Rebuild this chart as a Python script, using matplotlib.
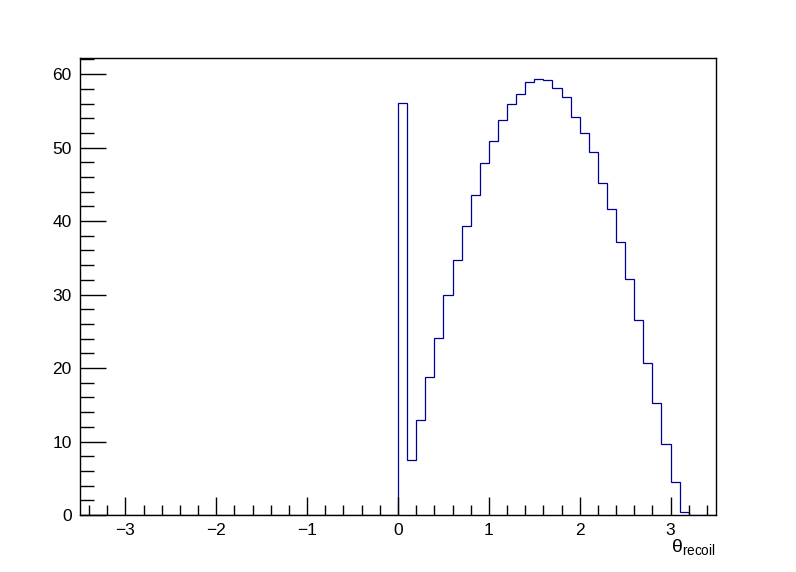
import numpy as np
import matplotlib
matplotlib.use('Agg')
import matplotlib.pyplot as plt
from matplotlib.ticker import MultipleLocator

plt.rcParams['font.family'] = ['Liberation Sans', 'DejaVu Sans']
plt.rcParams['mathtext.fontset'] = 'custom'
plt.rcParams['mathtext.rm'] = 'Liberation Sans'
plt.rcParams['mathtext.it'] = 'Liberation Sans'
plt.rcParams['mathtext.default'] = 'regular'

# histogram: 70 bins from -3.5 to 3.5, only bins >= 0 filled
bin_edges = np.round(np.arange(-3.5, 3.5001, 0.1), 2)
filled = [56.05, 7.52, 12.92, 18.82, 24.12, 29.93, 34.69, 39.36, 43.54, 47.89,
          50.88, 53.74, 55.92, 57.28, 58.91, 59.32, 59.18, 58.09, 56.87, 54.15,
          52.01, 49.43, 45.17, 41.63, 37.14, 32.11, 26.57, 20.68, 15.28, 9.66,
          4.49, 0.41]
counts = np.zeros(len(bin_edges) - 1)
counts[35:35 + len(filled)] = filled

fig = plt.figure(figsize=(7.96, 5.72), dpi=100)
ax = fig.add_axes([80 / 796, 1 - 515 / 572, 636 / 796, 457 / 572])

ax.stairs(counts, bin_edges, color='#000099', linewidth=0.9)

ax.set_xlim(-3.5, 3.5)
ax.set_ylim(0, 62.2)
ax.xaxis.set_major_locator(MultipleLocator(1))
ax.xaxis.set_minor_locator(MultipleLocator(0.2))
ax.yaxis.set_major_locator(MultipleLocator(10))
ax.yaxis.set_minor_locator(MultipleLocator(2))
ax.tick_params(axis='x', which='major', direction='in', length=13, width=1, labelsize=12.5, pad=6)
ax.tick_params(axis='x', which='minor', direction='in', length=7, width=1)
ax.tick_params(axis='y', which='major', direction='in', length=19, width=1, labelsize=12.5, pad=6)
ax.tick_params(axis='y', which='minor', direction='in', length=10, width=1)
for s in ax.spines.values():
    s.set_linewidth(1)

ax.text(1.0, -0.048, r'$\theta_{recoil}$', transform=ax.transAxes,
        ha='right', va='top', fontsize=14)

fig.savefig('out.png', dpi=100)
